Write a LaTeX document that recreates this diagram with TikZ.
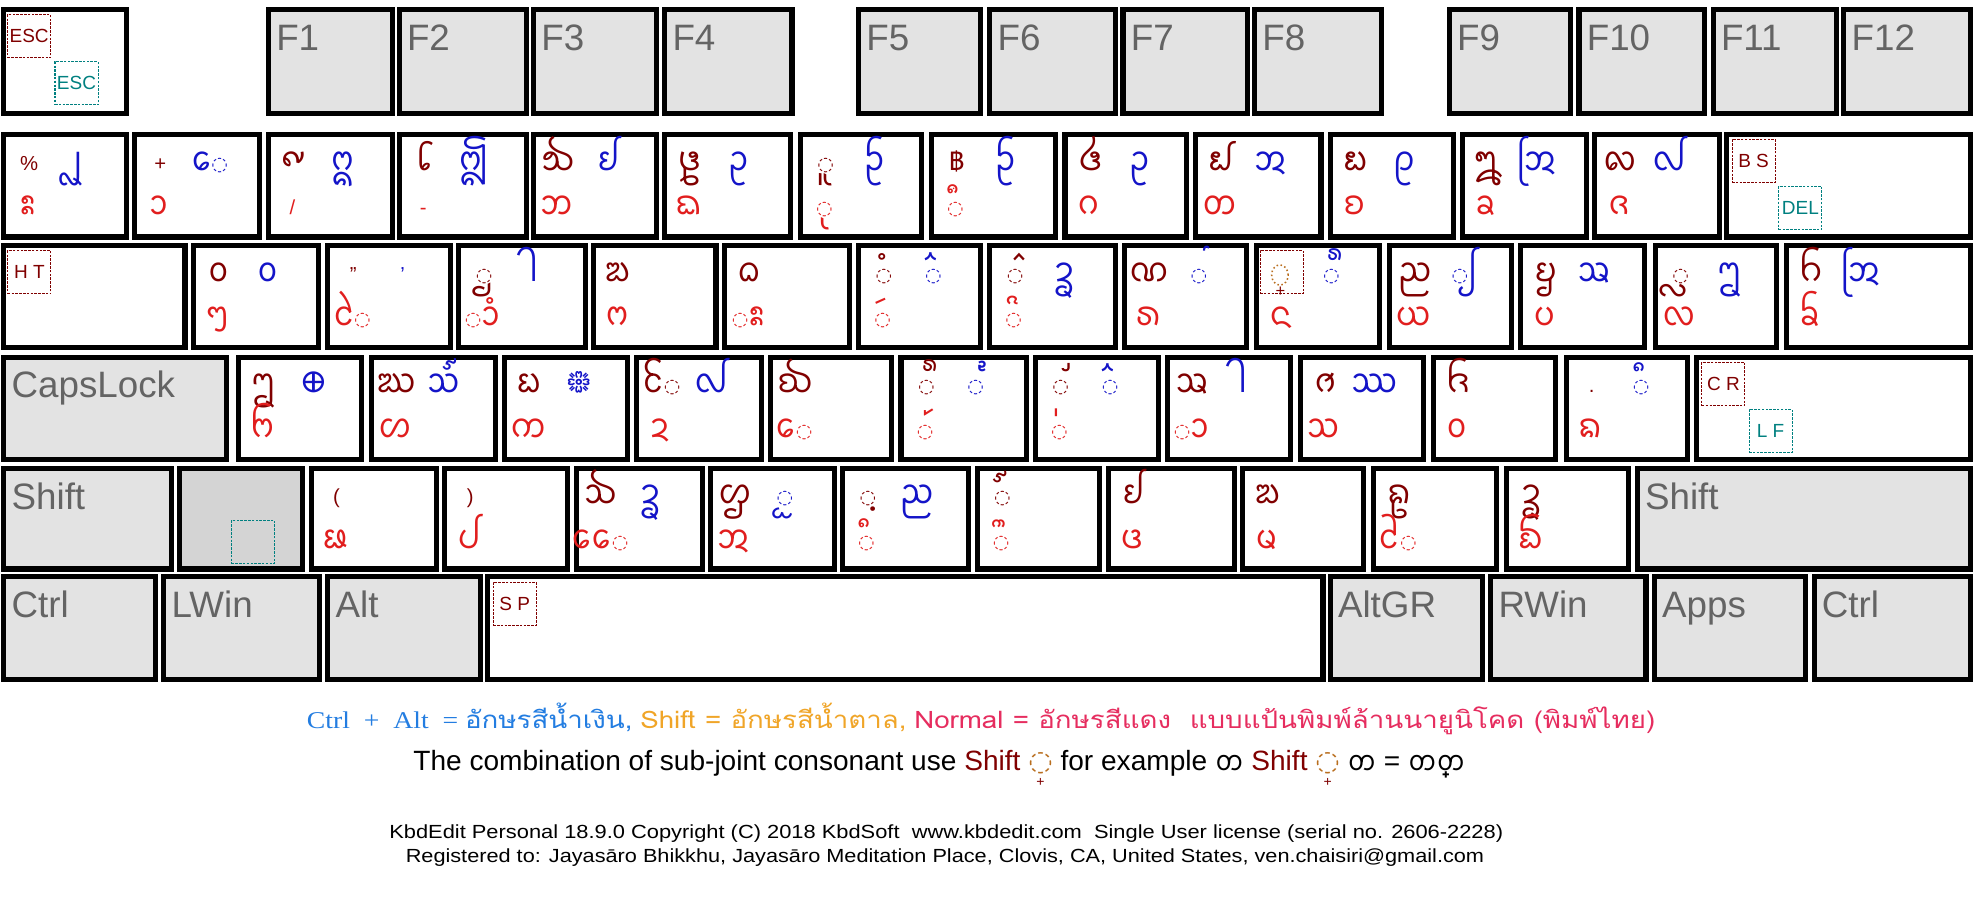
\documentclass[tikz,border=0pt]{standalone}
\usepackage{fontspec}
\usepackage{graphicx}
\usetikzlibrary{calc}
\setmainfont{Liberation Sans}
\newfontfamily\thaif[Script=Thai]{Loma}
\newfontfamily\seriff{Liberation Serif}
\newfontfamily\dejavu{DejaVu Sans}
\newfontscript{TaiThamX}{lana}
\IfFontExistsTF{Noto Sans Tai Tham}{\newfontfamily\lanna[Script=TaiThamX]{Noto Sans Tai Tham}}{\newfontfamily\lanna{DejaVu Sans}}
\definecolor{shiftc}{RGB}{128,0,0}
\definecolor{bluec}{RGB}{20,20,200}
\definecolor{redc}{RGB}{225,30,30}
\definecolor{tealc}{RGB}{0,128,128}
\definecolor{keyg}{RGB}{227,227,227}
\definecolor{keyg2}{RGB}{212,212,212}
\definecolor{labg}{RGB}{100,100,100}
\definecolor{ctrlc}{RGB}{35,125,225}
\definecolor{orc}{RGB}{240,165,40}
\definecolor{pkc}{RGB}{230,45,95}
\definecolor{sakc}{RGB}{185,110,30}
\newcommand\asc[1]{{\normalfont\fontsize{16}{16}\selectfont #1}}
\newcommand\baht{{\thaif\fontsize{20}{20}\selectfont ฿}}
% dotted circle placeholder (DejaVu Sans has it, the Tai Tham font does not)
\newcommand\dc{{\dejavu\fontsize{15}{15}\selectfont\char"25CC}}
\newcommand\sakotsym{\begin{tabular}[t]{@{}c@{}}{\dejavu\color{sakc}\char"25CC}\\[-0.42em]{\color{shiftc}\fontsize{11}{11}\selectfont +}\end{tabular}}
\tikzset{
  keyw/.style={rectangle,draw=black,line width=4pt,fill=white,inner sep=0pt,outer sep=0pt},
  glyph/.style={anchor=base,inner sep=0pt,font=\lanna\fontsize{27}{27}\selectfont},
  sh/.style={glyph,text=shiftc},
  bl/.style={glyph,text=bluec},
  nr/.style={glyph,text=redc},
  klabel/.style={anchor=base west,inner sep=0pt,text=labg,font=\fontsize{29}{29}\selectfont},
  mbox/.style={rectangle,draw=shiftc,dash pattern=on 2pt off 1pt,line width=0.8pt,minimum width=34pt,minimum height=34pt,inner sep=0pt,text=shiftc,font=\fontsize{15}{15}\selectfont},
  tbox/.style={mbox,draw=tealc,text=tealc},
  txt/.style={anchor=base west,inner sep=0pt}
}
% name, x1, y1, x2, y2 (outer edges)
\newcommand\wkey[5]{\node[keyw,minimum width={#4-#2-4},minimum height={#5-#3-4}] (#1) at ({(#2+#4)/2},{(#3+#5)/2}) {};}
\newcommand\gkey[6]{\node[keyw,fill=keyg,minimum width={#4-#2-4},minimum height={#5-#3-4}] (#1) at ({(#2+#4)/2},{(#3+#5)/2}) {};
  \node[klabel] (#1t) at ($(#1.north west)+(6,32)$) {#6};}
\newcommand\lkey[8]{\wkey{#1}{#2}{#3}{#4}{#5}%
  \if\relax\detokenize{#6}\relax\else\node[sh] (#1s) at ($(#1.north west)+(20,28)$) {#6};\fi
  \if\relax\detokenize{#7}\relax\else\node[bl] (#1b) at ($(#1.north west)+(59,28)$) {#7};\fi
  \if\relax\detokenize{#8}\relax\else\node[nr] (#1n) at ($(#1.north west)+(19,63)$) {#8};\fi}
\begin{document}
\begin{tikzpicture}[x=1pt,y=-1pt]
\fill[white] (0,0) rectangle (1568,727);
\useasboundingbox (0,0) rectangle (1568,727);
% ---------- row 1
\wkey{kesc}{1}{5.8}{101.6}{91.3}
\node[mbox] (escm) at (23,28.7) {ESC};
\node[tbox] (esct) at (60.4,65.7) {ESC};
\gkey{kf1}{209.8}{5.8}{311.4}{91.3}{F1}
\gkey{kf2}{313}{5.8}{417.5}{91.3}{F2}
\gkey{kf3}{419}{5.8}{520}{91.3}{F3}
\gkey{kf4}{522.5}{5.8}{627}{91.3}{F4}
\gkey{kf5}{675.5}{5.8}{776}{91.3}{F5}
\gkey{kf6}{779}{5.8}{882}{91.3}{F6}
\gkey{kf7}{884.2}{5.8}{986.2}{91.3}{F7}
\gkey{kf8}{988}{5.8}{1092}{91.3}{F8}
\gkey{kf9}{1141.7}{5.8}{1241.4}{91.3}{F9}
\gkey{kf10}{1244}{5.8}{1347.2}{91.3}{F10}
\gkey{kf11}{1349.9}{5.8}{1451.3}{91.3}{F11}
\gkey{kf12}{1453}{5.8}{1557}{91.3}{F12}
% ---------- row 2
\lkey{kgr}{1}{104.5}{101.6}{189}{\asc{\%}}{ᩗ}{ᩡ}
\lkey{kone}{104.4}{104.5}{207}{189}{\asc{+}}{ᩮ\dc}{ᩣ}
\lkey{ktwo}{209.8}{104.5}{311.4}{189}{᪑}{ᩍ}{\asc{/}}
\lkey{kthree}{313}{104.5}{417.5}{189}{᪒}{ᩎ}{\asc{-}}
\lkey{kfour}{418.9}{104.5}{520}{189}{᪓}{ᩀ}{ᨽ}
\lkey{kfive}{522.5}{104.5}{626}{189}{᪔}{ᩏ}{ᨳ}
\lkey{ksix}{629.6}{104.5}{729.5}{189}{\dc ᩪ}{ᩐ}{\dc ᩩ}
\lkey{kseven}{733}{104.5}{835}{189}{\baht}{ᩐ}{\dc ᩧ}
\lkey{keight}{838.4}{104.5}{938.3}{189}{᪕}{ᩏ}{ᨣ}
\lkey{knine}{941.7}{104.5}{1044.4}{189}{᪖}{ᩋ}{ᨲ}
\lkey{kzero}{1047.7}{104.5}{1149}{189}{᪗}{ᩑ}{ᨧ}
\lkey{kminus}{1151.8}{104.5}{1253.9}{189}{᪘}{ᩒ}{ᨡ}
\lkey{kequal}{1256.5}{104.5}{1359}{189}{᪙}{ᩓ}{ᨩ}
\wkey{kback}{1360.6}{104.5}{1557}{189}
\node[mbox] (bsm) at (1383.8,127) {B S};
\node[tbox] (delt) at (1420.7,164.2) {DEL};
% ---------- row 3
\wkey{ktab}{1}{192}{148}{276}
\node[mbox] (htm) at (23.2,214.9) {H T};
\lkey{kq}{150.6}{192}{253}{276}{᪐}{᪀}{ᪧ}
\lkey{kw}{256.7}{192}{357.6}{276}{\asc{"}}{\asc{\char"27}}{ᩱ\dc}
\lkey{ke}{360}{192}{463.7}{276}{\dc ᩛ}{ᩤ}{\dc ᩣᩴ}
\lkey{kr}{466}{192}{567}{276}{ᨰ}{}{ᨻ}
\lkey{kt}{569.7}{192}{672}{276}{ᨵ}{}{\dc ᩡ}
\lkey{ky}{675.5}{192}{775.8}{276}{\dc ᩴ}{\dc ᩳ}{\dc ᩢ}
\lkey{ku}{779}{192}{882}{276}{\dc ᩷}{ᩄ}{\dc ᩦ}
\lkey{ki}{885}{192}{986}{276}{ᨱ}{\dc ᩻}{ᩁ}
\lkey{ko}{989.7}{192}{1090.4}{276}{}{\dc ᩺}{ᨶ}
\node[mbox] (sakm) at (1011.4,214.8) {};
\draw[sakc,dotted,line width=1.2pt] (1010,217) ellipse [x radius=6.5pt,y radius=8pt];
\node[inner sep=0pt,text=shiftc,font=\fontsize{13}{13}\selectfont] (sakp) at (1010.5,230) {+};
\lkey{kp}{1094.7}{192}{1194.4}{276}{ᨬ}{\dc ᩭ}{ᨿ}
\lkey{klb}{1197.8}{192}{1300}{276}{ᨮ}{ᩇ}{ᨷ}
\lkey{krb}{1304.2}{192}{1404}{276}{\dc ᩖ}{ᩂ}{ᩃ}
\lkey{kbsl}{1407.6}{192}{1557}{276}{ᨤ}{ᩒ}{ᨢ}
% ---------- row 4
\gkey{kcaps}{1}{280}{181}{364.4}{CapsLock}
\lkey{ka}{186.5}{280}{287}{364.4}{ᩂ}{᪠}{ᨼ}
\lkey{ks}{291}{280}{393}{364.4}{ᨥ}{᪢}{ᩉ}
\lkey{kd}{396}{280}{497}{364.4}{ᨭ}{᪥}{ᨠ}
\lkey{kf}{500}{280}{603}{364.4}{ᩰ\dc}{ᩓ}{ᨯ}
\lkey{kg}{605.7}{280}{705.6}{364.4}{ᨫ}{}{ᩮ\dc}
\lkey{kh}{709}{280}{811.7}{364.4}{\dc ᩺}{\dc ᩹}{\dc ᩶}
\lkey{kj}{815}{280}{916}{364.4}{\dc ᩸}{\dc ᩳ}{\dc ᩵}
\lkey{kk}{919.5}{280}{1020}{364.4}{ᩇ}{ᩤ}{\dc ᩣ}
\lkey{kl}{1024}{280}{1125.6}{364.4}{ᩆ}{ᩔ}{ᩈ}
\lkey{ksemi}{1129}{280}{1229.7}{364.4}{ᨪ}{}{ᩅ}
\lkey{kquo}{1234}{280}{1333.8}{364.4}{\asc{.}}{\dc ᩥ}{ᨦ}
\wkey{kenter}{1337}{280}{1557}{364.4}
\node[mbox] (crm) at (1360,303.1) {C R};
\node[tbox] (lft) at (1397.2,340.2) {L F};
% ---------- row 5
\gkey{klsh}{1}{367.7}{137.6}{451}{Shift}
\node[keyw,fill=keyg2,minimum width={241-139.6-4},minimum height={451-367.7-4}] (kext) at ({(139.6+241)/2},{(367.7+451)/2}) {};
\node[tbox] (extt) at (199.7,427.8) {};
\lkey{kz}{243.6}{367.7}{346.3}{451}{\asc{(}}{}{ᨹ}
\lkey{kx}{349}{367.7}{450}{451}{\asc{)}}{}{ᨸ}
\lkey{kc}{452.7}{367.7}{556}{451}{ᨨ}{ᩄ}{ᩯ\dc}
\lkey{kv}{558.4}{367.7}{660.4}{451}{ᩌ}{\dc ᩬ}{ᩋ}
\lkey{kb}{662.8}{367.7}{766.5}{451}{\dc ᩿}{ᨬ}{\dc ᩥ}
\lkey{kn}{769}{367.7}{870}{451}{\dc ᩼}{}{\dc ᩨ}
\lkey{km}{872.6}{367.7}{976}{451}{ᩀ}{}{ᨴ}
\lkey{kcom}{978.7}{367.7}{1078}{451}{ᨰ}{}{ᨾ}
\lkey{kdot}{1082}{367.7}{1182.7}{451}{ᩊ}{}{ᩲ\dc}
\lkey{ksl}{1186.7}{367.7}{1286.8}{451}{ᩄ}{}{ᨺ}
\gkey{krsh}{1290}{367.7}{1557}{451}{Shift}
% ---------- row 6
\gkey{kctl}{1}{453}{125}{538}{Ctrl}
\gkey{klwin}{127.3}{453}{254}{538}{LWin}
\gkey{kalt}{256.7}{453}{381}{538}{Alt}
\wkey{kspace}{383}{453}{1046}{538}
\node[mbox] (spm) at (406.2,476.3) {S P};
\gkey{kaltgr}{1047.7}{453}{1172}{538}{AltGR}
\gkey{krwin}{1174.3}{453}{1300.9}{538}{RWin}
\gkey{kapps}{1303.5}{453}{1427}{538}{Apps}
\gkey{kctr}{1429.5}{453}{1557}{538}{Ctrl}
% ---------- legend
\node[txt] (leg1) at (242,575) {\resizebox{1064pt}{\height}{\fontsize{19}{19}\selectfont
  {\color{ctrlc}\seriff Ctrl\ \ +\ \ Alt\ \ =\ \thaif อักษรสีน้ำเงิน,}
  {\color{orc}\thaif Shift = อักษรสีน้ำตาล,}
  {\color{pkc}\thaif Normal = อักษรสีแดง\ \ แบบแป้นพิมพ์ล้านนายูนิโคด (พิมพ์ไทย)}}};
\node[txt] (leg2) at (326,608) {\resizebox{830pt}{\height}{\fontsize{22}{22}\selectfont
  The combination of sub-joint consonant use {\color{shiftc}Shift} \sakotsym{} for example {\lanna ᨲ} {\color{shiftc}Shift} \sakotsym{} {\lanna ᨲ} = {\lanna ᨲ᩠ᨲ}}};
\node[txt] (ft1) at (307,662) {\resizebox{879pt}{\height}{\fontsize{15}{15}\selectfont
  KbdEdit Personal 18.9.0 Copyright (C) 2018 KbdSoft\ \ www.kbdedit.com\ \ Single User license (serial no. 2606-2228)}};
\node[txt] (ft2) at (320,681) {\resizebox{851pt}{\height}{\fontsize{15}{15}\selectfont
  Registered to: Jayasāro Bhikkhu, Jayasāro Meditation Place, Clovis, CA, United States, ven.chaisiri@gmail.com}};
\end{tikzpicture}
\end{document}
